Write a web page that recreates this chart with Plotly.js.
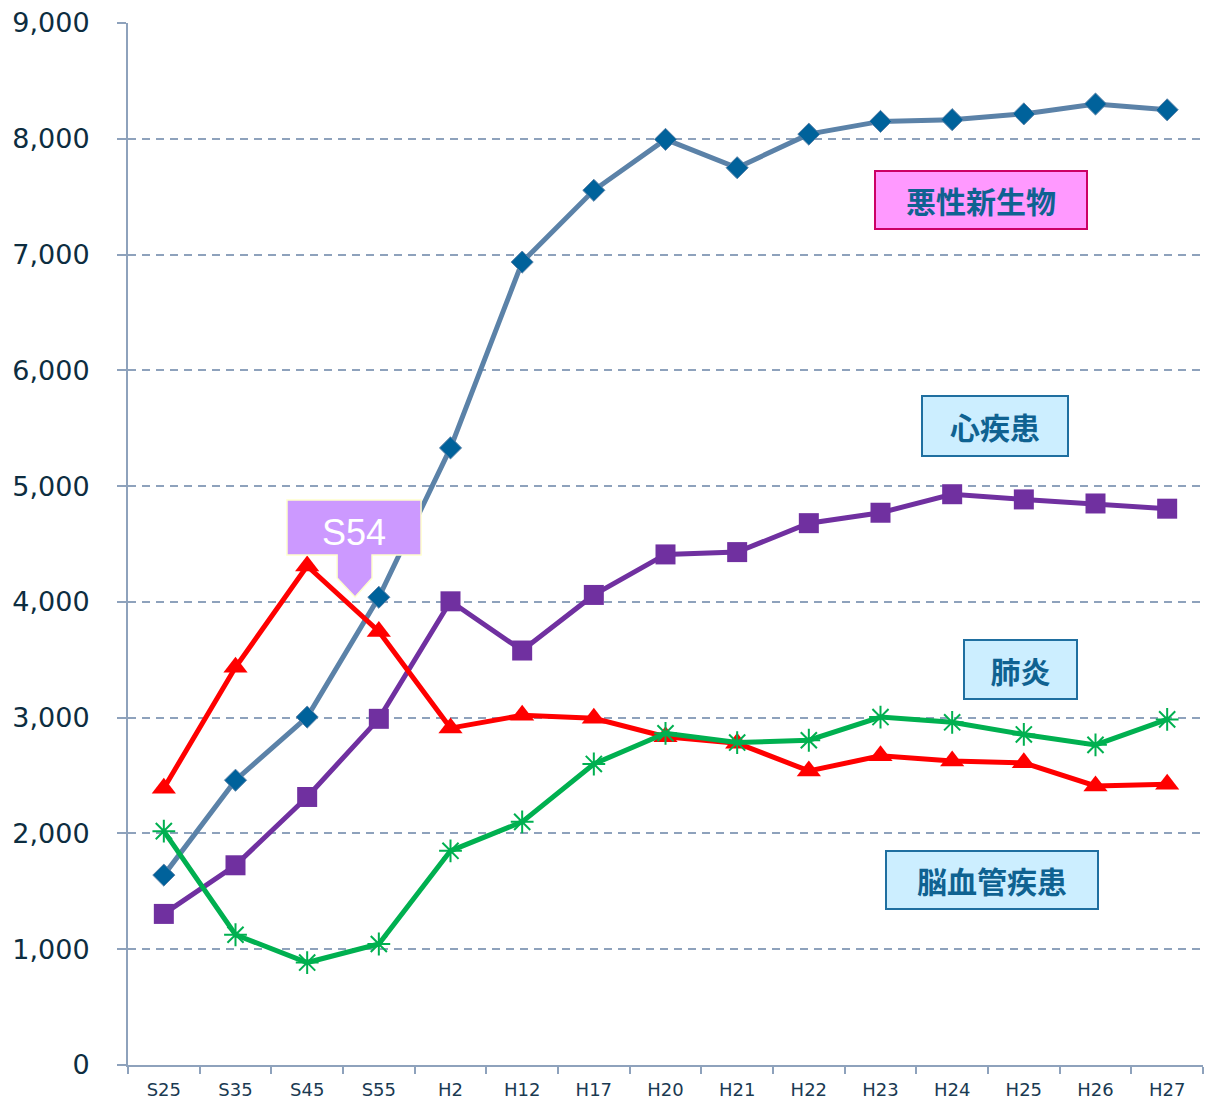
<!DOCTYPE html>
<html>
<head>
<meta charset="utf-8">
<script src="https://cdn.plot.ly/plotly-3.0.1.min.js"></script>
<style>html,body{margin:0;padding:0;background:#fff;}#chart{width:1213px;height:1103px;}</style>
</head>
<body>
<div id="chart"></div>
<script>
// Categories (Japanese era years)
const categories = ["S25","S35","S45","S55","H2","H12","H17","H20","H21","H22","H23","H24","H25","H26","H27"];

// Series values
const malignant   = [1640, 2460, 3005, 4040, 5330, 6935, 7555, 7995, 7750, 8040, 8150, 8165, 8215, 8300, 8250]; // 悪性新生物
const heart       = [1305, 1725, 2315, 2990, 4005, 3580, 4060, 4410, 4430, 4680, 4770, 4930, 4885, 4850, 4805]; // 心疾患
const cerebro     = [2390, 3435, 4310, 3745, 2910, 3020, 2995, 2835, 2780, 2540, 2670, 2625, 2610, 2410, 2425]; // 脳血管疾患
const pneumonia   = [2020, 1125, 885, 1045, 1850, 2100, 2600, 2865, 2785, 2805, 3005, 2960, 2855, 2765, 2985]; // 肺炎

const yTickVals = [0,1000,2000,3000,4000,5000,6000,7000,8000,9000];
const yTickText = ["0","1,000","2,000","3,000","4,000","5,000","6,000","7,000","8,000","9,000"];

const axisColor = '#8ea2bc';
const labelBlue = '#0f6291';

const traces = [
  {
    x: categories, y: malignant, name: '悪性新生物', type: 'scatter', mode: 'lines+markers',
    line: {color: '#5b82a8', width: 5},
    marker: {symbol: 'diamond', size: 17, color: '#00629b', line: {color: '#5b82a8', width: 1}}
  },
  {
    x: categories, y: heart, name: '心疾患', type: 'scatter', mode: 'lines+markers',
    line: {color: '#7030a0', width: 5},
    marker: {symbol: 'square', size: 20, color: '#7030a0'}
  },
  {
    x: categories, y: cerebro, name: '脳血管疾患', type: 'scatter', mode: 'lines+markers',
    line: {color: '#ff0000', width: 5},
    marker: {symbol: 'triangle-up', size: 21, color: '#ff0000'}
  },
  {
    x: categories, y: pneumonia, name: '肺炎', type: 'scatter', mode: 'lines+markers',
    line: {color: '#00b050', width: 5},
    marker: {symbol: 'asterisk-open', size: 19, color: '#00b050', line: {color: '#00b050', width: 2}}
  }
];

function box(text, x, y, w, h, bg, border) {
  return {
    xref: 'paper', yref: 'paper', x: x, y: y, xanchor: 'center', yanchor: 'middle',
    text: '<b>' + text + '</b>', showarrow: false,
    width: w, height: h, bgcolor: bg, bordercolor: border, borderwidth: 2, borderpad: 0,
    font: {family: '"Noto Sans CJK JP", sans-serif', size: 30, color: labelBlue}
  };
}

const layout = {
  width: 1213, height: 1103,
  margin: {l: 128, r: 10, t: 23, b: 38, pad: 0},
  paper_bgcolor: '#ffffff', plot_bgcolor: '#ffffff',
  showlegend: false,
  xaxis: {
    type: 'category', categoryorder: 'array', categoryarray: categories,
    range: [-0.5, 14.5],
    showline: true, linecolor: axisColor, linewidth: 2,
    ticks: 'outside', tickson: 'boundaries', ticklen: 7, tickwidth: 2, tickcolor: axisColor,
    ticklabelstandoff: 7,
    showgrid: false, zeroline: false,
    tickfont: {family: '"DejaVu Sans", Verdana, sans-serif', size: 18, color: '#1a3a52'}
  },
  yaxis: {
    range: [0, 9000], tickmode: 'array', tickvals: yTickVals, ticktext: yTickText,
    showline: true, linecolor: axisColor, linewidth: 2,
    ticks: 'outside', ticklen: 9, tickwidth: 2, tickcolor: axisColor,
    ticklabelstandoff: 22,
    showgrid: true, gridcolor: axisColor, gridwidth: 2, griddash: '8px,6px',
    zeroline: false,
    tickfont: {family: '"DejaVu Sans", Verdana, sans-serif', size: 27, color: '#0d2d40'}
  },
  shapes: [
    {
      type: 'path', xref: 'paper', yref: 'paper', layer: 'above',
      path: 'M 0.1479 0.5422 L 0.2726 0.5422 L 0.2726 0.4894 L 0.2270 0.4894 L 0.2270 0.4674 L 0.2112 0.4492 L 0.1945 0.4674 L 0.1945 0.4894 L 0.1479 0.4894 Z',
      fillcolor: '#cc99ff', line: {color: '#ffffcc', width: 1.5}
    }
  ],
  annotations: [
    {
      xref: 'paper', yref: 'paper', x: 0.2102, y: 0.5115, xanchor: 'center', yanchor: 'middle',
      text: 'S54', showarrow: false,
      font: {family: '"Liberation Sans", Arial, sans-serif', size: 36, color: '#ffffff'}
    },
    box('悪性新生物', 0.7935, 0.8301, 210, 56, '#ff99ff', '#cc0066'),
    box('心疾患', 0.8065, 0.6132, 144, 58, '#cceeff', '#1f6fa0'),
    box('肺炎', 0.8302, 0.3796, 111, 57, '#cceeff', '#1f6fa0'),
    box('脳血管疾患', 0.8037, 0.1775, 210, 56, '#cceeff', '#1f6fa0')
  ]
};

Plotly.newPlot('chart', traces, layout, {displayModeBar: false, staticPlot: true});
</script>
</body>
</html>
